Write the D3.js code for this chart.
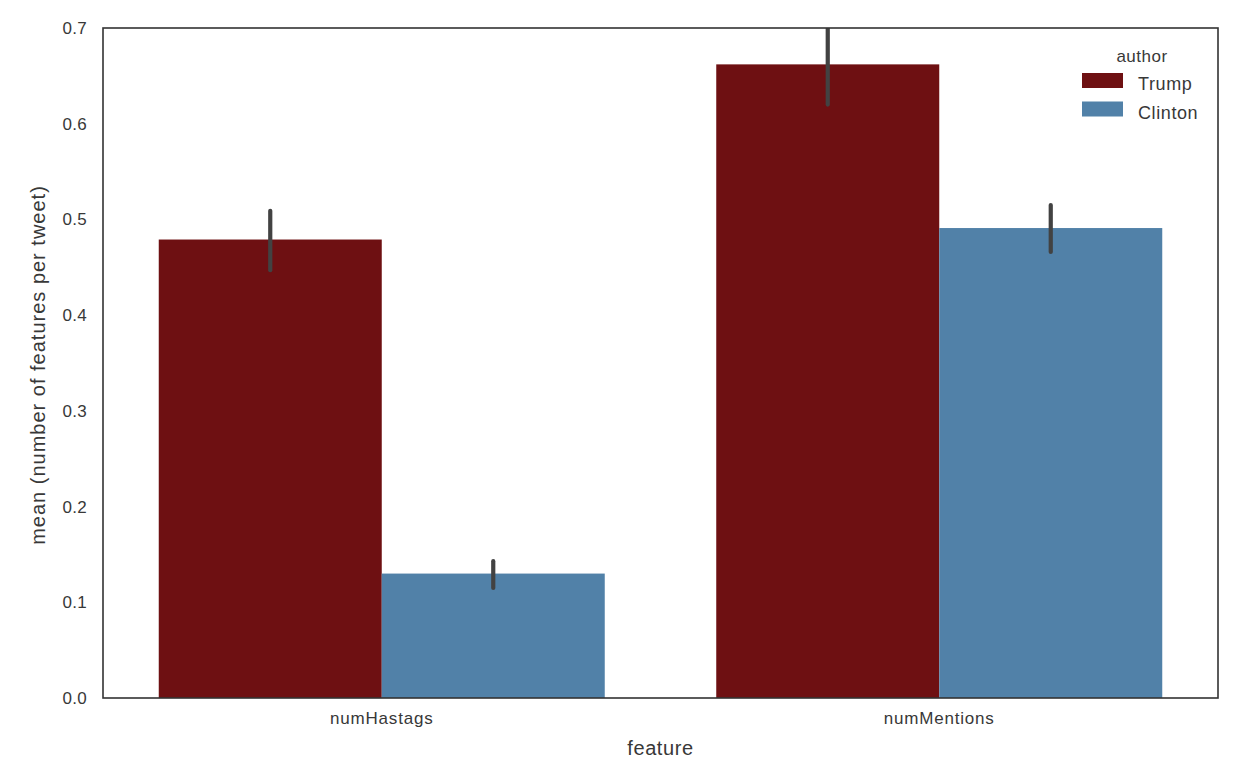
<!DOCTYPE html>
<html><head><meta charset="utf-8">
<script src="https://cdn.jsdelivr.net/npm/d3@7"></script>
<style>body{margin:0;background:#fff;} text{font-family:"Liberation Sans",Arial,sans-serif;fill:#383838;}</style>
</head><body>
<svg id="c" width="1242" height="776"></svg>
<script>
const features = ["numHastags", "numMentions"];
const authors = ["Trump", "Clinton"];
const trumpMean = [0.479, 0.662];
const clintonMean = [0.130, 0.491];
const trumpLow = [0.447, 0.620];
const trumpHigh = [0.509, 0.706];
const clintonLow = [0.115, 0.466];
const clintonHigh = [0.143, 0.515];
const yTicks = [0.0, 0.1, 0.2, 0.3, 0.4, 0.5, 0.6, 0.7];
const colors = ["#6e1012", "#5181a8"];

const svg = d3.select("#c");
const m = {l: 103, t: 28, r: 1218, b: 698};
const x = d3.scaleBand().domain(features).range([m.l, m.r]).paddingInner(0).paddingOuter(0);
const xs = d3.scaleBand().domain(authors).range([0, x.bandwidth()]).paddingInner(0).paddingOuter(0.25);
const y = d3.scaleLinear().domain([0, 0.7]).range([m.b, m.t]);

const rows = [];
features.forEach((f, i) => {
  rows.push({f, a: "Trump", v: trumpMean[i], lo: trumpLow[i], hi: trumpHigh[i], c: colors[0]});
  rows.push({f, a: "Clinton", v: clintonMean[i], lo: clintonLow[i], hi: clintonHigh[i], c: colors[1]});
});

svg.append("defs").append("clipPath").attr("id", "clip")
  .append("rect").attr("x", m.l).attr("y", m.t).attr("width", m.r - m.l).attr("height", m.b - m.t);

const g = svg.append("g").attr("clip-path", "url(#clip)");
g.selectAll("rect.bar").data(rows).enter().append("rect")
  .attr("x", d => x(d.f) + xs(d.a))
  .attr("width", xs.bandwidth())
  .attr("y", d => y(d.v))
  .attr("height", d => y(0) - y(d.v))
  .attr("fill", d => d.c);
g.selectAll("line.err").data(rows).enter().append("line")
  .attr("x1", d => x(d.f) + xs(d.a) + xs.bandwidth() / 2)
  .attr("x2", d => x(d.f) + xs(d.a) + xs.bandwidth() / 2)
  .attr("y1", d => y(d.lo)).attr("y2", d => y(d.hi))
  .attr("stroke", "#424242").attr("stroke-width", 4.2).attr("stroke-linecap", "round");

// frame
svg.append("rect").attr("x", m.l).attr("y", m.t).attr("width", m.r - m.l).attr("height", m.b - m.t)
  .attr("fill", "none").attr("stroke", "#333").attr("stroke-width", 1.6);

// y ticks
svg.selectAll("text.yt").data(yTicks).enter().append("text")
  .attr("x", m.l - 16).attr("y", d => y(d)).attr("dy", "0.35em")
  .attr("text-anchor", "end").attr("font-size", 17).attr("letter-spacing", 0.3).text(d => d.toFixed(1));
// x ticks
svg.selectAll("text.xt").data(features).enter().append("text")
  .attr("x", d => x(d) + x.bandwidth() / 2).attr("y", m.b + 26)
  .attr("text-anchor", "middle").attr("font-size", 17).attr("letter-spacing", 0.8).text(d => d);

svg.append("text").attr("x", (m.l + m.r) / 2).attr("y", m.b + 57)
  .attr("text-anchor", "middle").attr("font-size", 20).attr("letter-spacing", 0.6).text("feature");
svg.append("text").attr("transform", `translate(45,${365}) rotate(-90)`)
  .attr("text-anchor", "middle").attr("font-size", 20).attr("letter-spacing", 1.0).text("mean (number of features per tweet)");

// legend
const lg = svg.append("g");
lg.append("text").attr("x", 1142).attr("y", 62).attr("text-anchor", "middle").attr("font-size", 17).attr("letter-spacing", 0.5).text("author");
authors.forEach((a, i) => {
  lg.append("rect").attr("x", 1082).attr("y", 73 + i * 28.5).attr("width", 41).attr("height", 15).attr("fill", colors[i]);
  lg.append("text").attr("x", 1138).attr("y", 84 + i * 28.5).attr("dy", "0.35em").attr("font-size", 18).attr("letter-spacing", 0.6).text(a);
});
</script>
</body></html>
